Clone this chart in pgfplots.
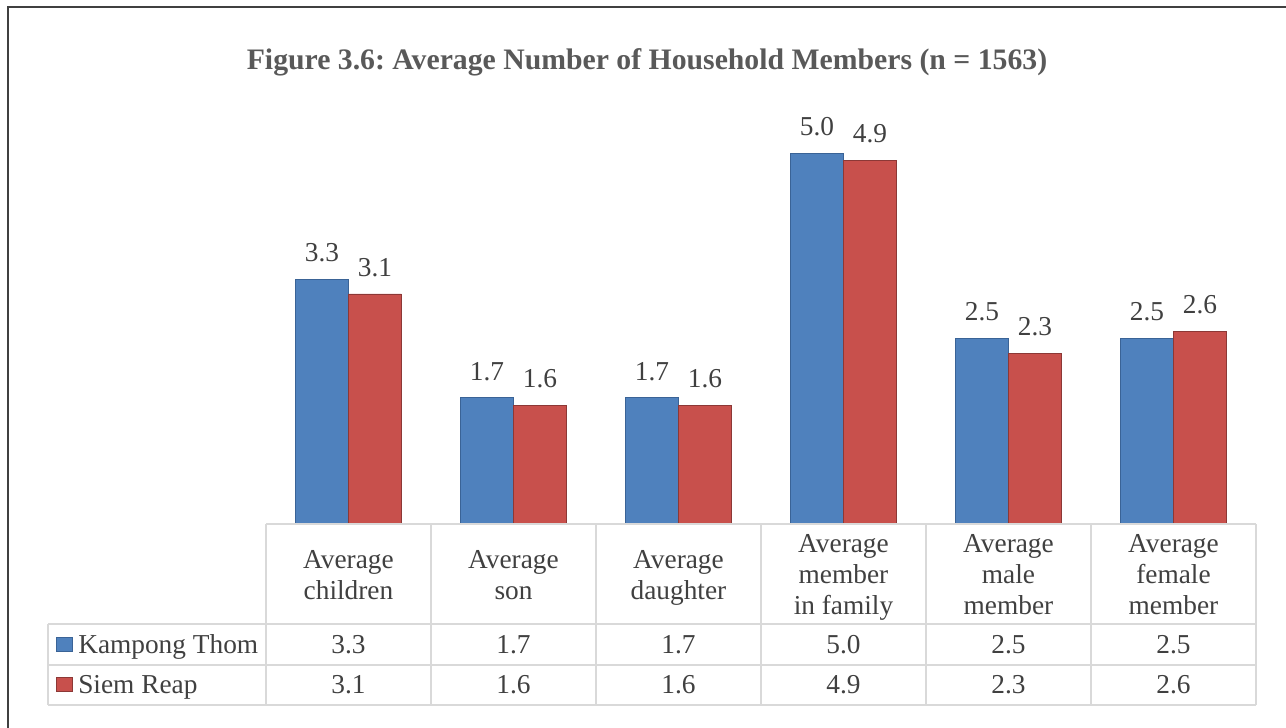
\documentclass[border=0pt]{standalone}
\usepackage{pgfplots}
\usepackage{pgfplotstable}
\pgfplotsset{compat=1.18}
\usepackage{fontspec}
\setmainfont{Liberation Serif}
\frenchspacing
\definecolor{kblue}{HTML}{4F81BD}
\definecolor{kbluedark}{HTML}{3A6396}
\definecolor{kred}{HTML}{C8504C}
\definecolor{kreddark}{HTML}{8C3836}
\definecolor{txt}{HTML}{404040}
\definecolor{ttl}{HTML}{595959}
\definecolor{gridc}{HTML}{D9D9D9}
\definecolor{framec}{HTML}{404040}

\pgfplotstableread{
x kt sr
0 3.3 3.1
1 1.7 1.6
2 1.7 1.6
3 5.0 4.9
4 2.5 2.3
5 2.5 2.6
}\datatab

\newcommand\fs{\fontsize{20.5pt}{24pt}\selectfont}

\begin{document}
\begin{tikzpicture}
\useasboundingbox (0,0) rectangle (964.5pt,-546pt);
\begin{axis}[scale only axis, width=742.5pt, height=333.9pt,
  anchor=south west, at={(199.5pt,-393pt)},
  xmin=-0.5, xmax=5.5, ymin=0, ymax=6, hide axis, clip=false,
  ybar, bar width=0.321,
  nodes near coords={\pgfmathprintnumber[fixed,zerofill,precision=1,assume math mode=true]{\pgfplotspointmeta}},
  every node near coord/.append style={font=\fs, text=txt, inner sep=0pt, anchor=south, yshift=12.75pt}]
\addplot[fill=kblue, draw=kbluedark, line width=0.6pt, bar shift=-0.1605] table[x=x,y=kt]{\datatab};
\addplot[fill=kred, draw=kreddark, line width=0.6pt, bar shift=0.1605] table[x=x,y=sr]{\datatab};
\end{axis}
\begin{scope}[x=0.75pt,y=-0.75pt]
% frame
\draw[framec, line width=1.6pt] (8,740) -- (8,7) -- (1300,7);
% title
\node[anchor=base, text=ttl, font=\bfseries\fontsize{22.3pt}{24pt}\selectfont, inner sep=0pt] at (647,69) {Figure 3.6: Average Number of Household Members (n = 1563)};
% table grid
\begin{scope}[gridc, line width=1.1pt]
\draw (266,524) -- (1256,524);
\draw (48,624) -- (1256,624);
\draw (48,665) -- (1256,665);
\draw (48,705) -- (1256,705);
\draw (48,624) -- (48,705);
\foreach \x in {266,431,596,761,926,1091,1256} \draw (\x,524) -- (\x,705);
\end{scope}
\tikzset{cell/.style={anchor=base, inner sep=0pt, font=\fs, text=txt}}
% header
\node[cell] at (348.5,568) {Average};
\node[cell] at (348.5,599) {children};
\node[cell] at (513.5,568) {Average};
\node[cell] at (513.5,599) {son};
\node[cell] at (678.5,568) {Average};
\node[cell] at (678.5,599) {daughter};
\node[cell] at (843.5,552) {Average};
\node[cell] at (843.5,583) {member};
\node[cell] at (843.5,614) {in family};
\node[cell] at (1008.5,552) {Average};
\node[cell] at (1008.5,583) {male};
\node[cell] at (1008.5,614) {member};
\node[cell] at (1173.5,552) {Average};
\node[cell] at (1173.5,583) {female};
\node[cell] at (1173.5,614) {member};
% legend column
\fill[kblue] (56,637) rectangle (72,651);
\draw[kbluedark, line width=0.5pt] (56,637) rectangle (72,651);
\fill[kred] (56,677) rectangle (72,691);
\draw[kreddark, line width=0.5pt] (56,677) rectangle (72,691);
\node[cell, anchor=base west] at (78,653) {Kampong Thom};
\node[cell, anchor=base west] at (78,693) {Siem Reap};
% values
\foreach \x/\a/\b in {348.5/3.3/3.1, 513.5/1.7/1.6, 678.5/1.7/1.6, 843.5/5.0/4.9, 1008.5/2.5/2.3, 1173.5/2.5/2.6}{
  \node[cell] at (\x,653) {\a};
  \node[cell] at (\x,693) {\b};
}
\end{scope}
\end{tikzpicture}
\end{document}
